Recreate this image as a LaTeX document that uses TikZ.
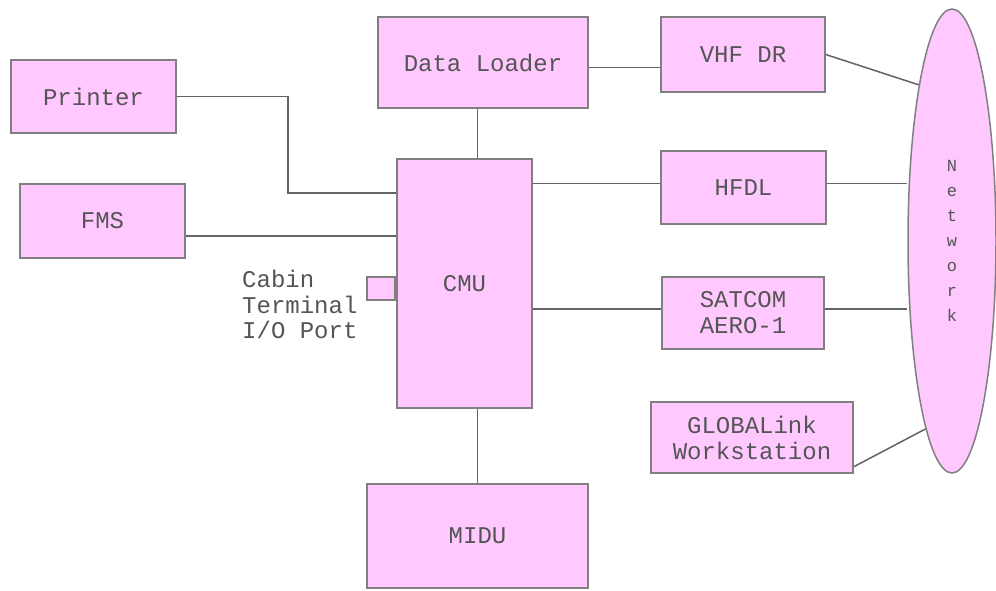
\documentclass[tikz,border=0pt]{standalone}
\usepackage{fontspec}
\setmonofont{Liberation Mono}
\usepackage{tikz}
\usetikzlibrary{positioning,shapes.geometric}
\definecolor{boxpink}{RGB}{255,200,255}
\definecolor{boxline}{RGB}{128,128,128}
\definecolor{wire}{RGB}{100,100,100}
\definecolor{ink}{RGB}{85,85,85}
\tikzset{
unit/.style={rectangle, fill=boxpink, draw=boxline, line width=1.5pt, inner sep=0pt,
  text=ink, font=\ttfamily\fontsize{24}{26}\selectfont, align=center},
link/.style={draw=wire, line width=1.5pt}
}

\begin{document}
\begin{tikzpicture}[x=1pt, y=-1pt]
  \useasboundingbox[fill=white] (0,0) rectangle (996,590);
  % boxes
  \node[unit, minimum width=210pt, minimum height=91pt] (loader) at (483,62.5) {Data Loader};
  \node[unit, minimum width=164pt, minimum height=75pt] (vhf) at (743,54.5) {VHF DR};
  \node[unit, minimum width=165pt, minimum height=73pt] (printer) at (93.5,96.5) {Printer};
  \node[unit, minimum width=165pt, minimum height=74pt] (fms) at (102.5,221) {FMS};
  \node[unit, minimum width=135pt, minimum height=249pt] (cmu) at (464.5,283.5) {CMU};
  \node[unit, minimum width=165pt, minimum height=73pt] (hfdl) at (743.5,187.5) {HFDL};
  \node[unit, minimum width=162pt, minimum height=72pt] (satcom) at (743,313) {SATCOM\\AERO-1};
  \node[unit, minimum width=202pt, minimum height=71pt] (glob) at (752,437.5) {GLOBALink\\Workstation};
  \node[unit, minimum width=221pt, minimum height=104pt] (midu) at (477.5,536) {MIDU};
  \node[unit, minimum width=28pt, minimum height=23pt] (port) at (381,288.5) {};
  \node[unit, ellipse, minimum width=88pt, minimum height=464pt,
    font=\ttfamily\fontsize{17}{25}\selectfont] (network) at (952,241) {N\\e\\t\\w\\o\\r\\k};
  \node[anchor=north west, align=left, text=ink, inner sep=0pt,
    font=\ttfamily\fontsize{24}{25.5}\selectfont] (portlabel) at (242,270) {Cabin\\Terminal\\I/O Port};
  % connections
  \coordinate (bend) at (288,193);
  \draw[link] (printer.east) -| (bend) -- (bend -| cmu.west);
  \draw[link] ([yshift=-15pt]fms.east) -- ([yshift=-15pt]fms.east -| cmu.west);
  \draw[link] (loader.south -| midu.north) -- (cmu.north -| midu.north);
  \draw[link] (cmu.south -| midu.north) -- (midu.north);
  \draw[link] ([yshift=-5pt]loader.east) -- ([yshift=-5pt]loader.east -| vhf.west);
  \draw[link] ([yshift=4pt]hfdl.west -| cmu.east) -- ([yshift=4pt]hfdl.west);
  \draw[link] ([yshift=4pt]satcom.west -| cmu.east) -- ([yshift=4pt]satcom.west);
  \draw[link] (vhf.east) -- (network.102);
  \draw[link] ([yshift=4pt]hfdl.east) -- ([yshift=4pt]hfdl.east -| network.west);
  \draw[link] ([yshift=4pt]satcom.east) -- ([yshift=4pt]satcom.east -| network.west);
  \draw[link] ([yshift=7pt]glob.south east) -- (network.262);
\end{tikzpicture}
\end{document}
